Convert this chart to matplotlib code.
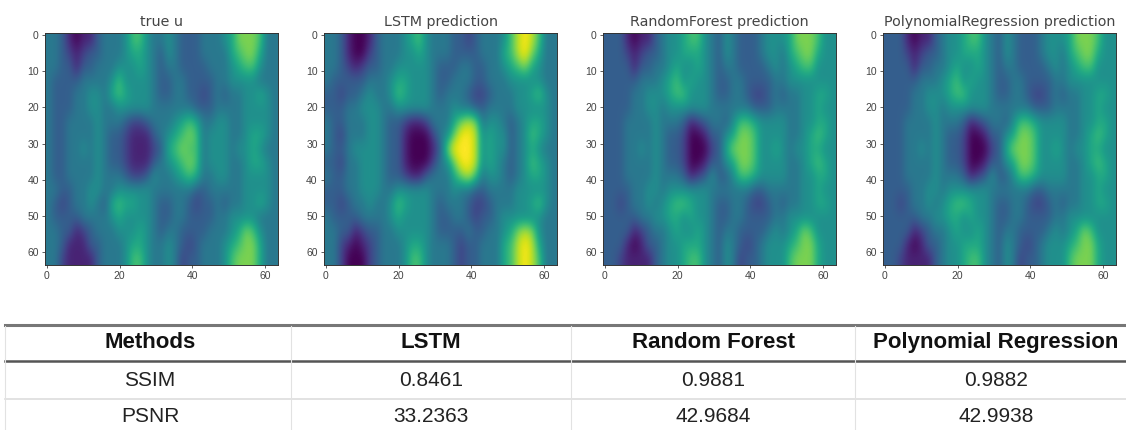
import matplotlib
matplotlib.use("Agg")
import matplotlib.pyplot as plt
import numpy as np

plt.rcParams['font.family'] = ['Liberation Sans', 'DejaVu Sans']

titles = ["true u", "LSTM prediction", "RandomForest prediction", "PolynomialRegression prediction"]

true_u = [
 [4,4,3,1,0,1,1,3,4,4,4,5,7,7,5,4,4,5,4,3,3,3,4,4,4,5,6,8,8,8,7,4,4],
 [4,4,3,2,1,2,3,3,4,4,4,5,6,6,5,4,3,5,4,3,3,3,4,4,4,4,6,7,8,8,6,4,4],
 [4,4,3,3,1,3,3,4,4,4,5,5,5,6,5,4,3,4,4,3,3,3,3,4,4,4,5,6,7,7,5,4,4],
 [4,3,3,3,3,4,4,4,4,5,7,5,5,5,5,4,3,3,4,4,3,3,3,3,4,4,5,5,5,5,4,4,4],
 [4,3,3,3,4,4,5,5,4,6,7,6,5,5,5,4,3,3,4,4,3,3,2,3,4,3,4,4,5,5,6,5,4],
 [4,3,3,3,4,4,5,5,4,4,5,5,5,5,5,4,4,4,4,4,4,3,3,3,4,4,4,4,5,5,5,5,4],
 [4,3,3,4,4,4,4,5,4,4,4,3,2,2,3,4,4,4,5,6,7,6,4,4,5,5,4,4,5,5,5,5,4],
 [4,3,3,4,4,4,4,5,4,3,3,2,1,1,1,3,4,5,6,7,8,7,4,5,5,5,4,4,5,6,6,5,4],
 [4,3,3,4,4,5,4,5,4,3,3,2,1,1,1,2,3,6,7,8,7,7,4,5,5,5,4,5,5,6,5,4,4],
 [4,3,3,4,4,4,4,5,4,3,3,2,1,1,1,3,4,5,6,7,8,7,4,5,5,5,4,4,5,6,6,5,4],
 [4,3,3,4,4,4,4,5,4,4,4,3,2,2,3,5,4,4,5,6,7,6,4,4,5,5,4,4,5,5,5,5,4],
 [4,4,3,3,4,4,5,5,4,4,5,5,5,5,5,4,4,4,4,4,4,3,3,4,4,4,4,4,5,5,5,5,4],
 [4,3,2,3,4,4,5,4,3,6,7,6,6,5,5,4,3,3,4,4,3,2,3,3,4,3,4,4,5,5,6,5,4],
 [4,3,3,3,3,4,4,4,4,5,6,5,5,5,5,4,3,3,4,4,3,3,3,3,4,4,5,5,5,5,4,4,4],
 [4,4,3,3,1,2,3,4,4,4,5,5,5,6,5,4,3,4,4,3,3,3,3,4,4,4,5,6,8,7,5,4,4],
 [4,4,3,1,1,1,3,3,4,4,4,5,6,6,5,4,4,5,4,3,2,3,4,4,4,5,6,7,8,8,6,4,4],
 [4,4,2,1,1,1,1,3,4,4,4,5,7,7,5,4,4,5,4,2,3,3,4,4,4,5,7,8,8,8,6,4,4],
]

lstm_u = [
 [4,4,3,1,0,0,1,3,4,4,4,5,6,7,5,4,4,4,3,3,2,3,4,4,4,5,7,9,10,9,7,4,4],
 [4,4,3,1,0,0,2,3,4,4,4,5,5,6,5,4,4,4,3,3,3,3,4,4,4,6,7,9,10,8,6,4,4],
 [4,4,3,2,1,2,3,3,4,4,5,5,5,5,5,4,3,3,3,4,4,3,3,4,4,5,6,7,8,6,5,4,4],
 [4,3,3,3,3,3,4,4,4,5,6,6,5,5,5,4,3,3,4,4,4,3,3,4,4,4,5,5,5,5,5,4,4],
 [3,3,2,3,3,4,5,4,4,5,7,6,5,5,5,4,3,4,4,4,3,2,2,3,4,4,4,5,5,6,7,5,4],
 [3,3,3,4,4,5,5,5,4,4,5,5,5,5,5,4,4,4,5,4,4,3,3,4,4,4,4,5,5,5,5,5,4],
 [4,3,3,4,4,4,5,5,4,3,3,2,1,1,2,4,4,4,6,8,9,8,4,5,5,4,3,4,5,6,6,5,4],
 [4,3,2,4,4,4,5,5,4,3,3,1,0,0,0,2,4,5,8,10,10,9,5,6,5,5,3,4,5,7,6,5,4],
 [4,3,3,4,5,5,5,5,4,3,3,1,0,0,0,1,3,8,10,10,10,9,5,6,5,5,3,4,5,6,5,4,4],
 [3,3,2,4,4,5,5,5,4,3,3,1,0,0,0,2,4,5,8,10,10,9,5,6,5,4,3,4,5,7,6,5,4],
 [4,3,3,4,4,5,5,5,4,3,3,2,1,1,3,4,4,4,6,8,9,7,4,5,5,4,3,4,5,6,6,5,4],
 [3,3,3,4,4,5,5,5,4,4,5,5,5,5,5,4,4,4,5,4,4,3,3,4,4,4,4,5,5,5,5,5,4],
 [3,3,2,3,4,4,5,4,4,5,7,6,5,5,5,4,3,4,4,4,3,2,2,3,4,4,4,5,5,6,7,5,4],
 [4,3,3,3,3,4,4,4,4,5,6,5,5,5,5,4,3,3,4,4,3,2,3,3,4,5,5,5,5,5,5,4,4],
 [4,4,3,3,1,2,3,3,4,4,5,5,5,5,5,4,3,3,3,3,4,3,3,4,4,5,6,8,9,8,5,4,4],
 [4,4,2,1,0,1,2,3,4,4,4,5,6,6,5,4,4,4,3,2,3,3,4,4,4,6,7,9,10,9,6,4,4],
 [4,4,2,0,0,0,2,3,4,4,4,5,7,7,5,4,4,4,3,2,3,3,4,4,4,6,7,9,10,9,7,4,4],
]

forest_u = [
 [3,3,3,1,0,1,1,3,4,5,5,6,7,7,5,4,3,5,4,3,3,3,4,5,5,5,6,8,8,8,7,5,5],
 [3,3,3,2,1,2,3,3,4,5,5,6,6,6,5,4,3,5,4,3,3,3,4,5,5,4,6,7,8,8,6,5,5],
 [3,3,3,3,1,3,3,4,4,5,6,5,5,6,5,4,3,4,4,3,3,3,3,4,5,4,5,6,7,7,5,5,5],
 [3,3,3,3,3,4,4,4,5,6,7,5,6,5,5,4,3,3,4,4,3,3,3,3,4,4,5,5,5,5,5,5,5],
 [3,3,3,3,4,4,5,5,5,6,7,7,5,5,5,4,3,3,4,4,3,2,2,3,4,3,4,4,5,5,6,6,5],
 [3,3,3,3,4,4,5,5,4,5,5,5,5,5,5,4,4,4,4,4,4,3,3,3,4,4,4,4,5,5,6,5,5],
 [3,3,3,4,4,4,4,5,4,4,4,3,1,2,3,4,4,3,5,7,7,6,5,5,5,5,4,4,5,5,6,6,5],
 [3,3,3,4,4,4,4,5,4,3,3,2,0,0,1,3,3,5,6,8,8,7,5,5,5,5,4,4,5,6,7,6,5],
 [3,3,3,4,4,5,4,5,4,3,3,2,0,0,0,2,3,6,8,8,8,7,5,5,6,5,4,5,5,6,6,5,5],
 [3,3,3,4,4,4,4,5,4,3,3,2,0,0,1,3,3,5,6,8,8,7,5,5,5,5,4,4,5,6,7,6,5],
 [3,3,3,4,4,4,4,5,4,4,4,3,1,2,3,5,3,3,5,7,7,6,5,5,5,5,4,4,5,5,6,6,5],
 [3,3,3,3,4,4,5,5,4,5,5,5,5,5,5,4,4,4,4,4,4,3,3,4,4,4,4,4,5,5,6,5,5],
 [3,3,2,3,4,4,5,4,5,6,7,7,6,5,5,4,3,3,4,4,3,2,2,3,4,3,4,4,5,5,6,6,5],
 [3,3,3,3,3,4,4,5,5,6,6,5,6,5,5,4,3,3,4,4,3,3,3,3,4,4,5,5,5,5,5,5,5],
 [3,3,3,3,1,2,3,4,4,5,6,5,5,6,5,4,3,4,4,3,3,3,3,4,5,4,5,6,8,7,5,5,5],
 [3,3,3,1,0,1,3,3,4,5,5,6,6,6,5,4,3,5,4,3,2,3,4,5,5,5,6,7,8,8,6,5,5],
 [3,3,2,1,1,1,1,3,4,5,5,6,7,7,5,4,3,5,4,2,3,3,4,5,5,5,7,8,8,8,6,5,5],
]

poly_u = forest_u

table_header = ["Methods", "LSTM", "Random Forest", "Polynomial Regression"]
table_rows = [["SSIM", "0.8461", "0.9881", "0.9882"],
              ["PSNR", "33.2363", "42.9684", "42.9938"]]

W, H = 1126, 430
fig = plt.figure(figsize=(W/100, H/100), dpi=100)
panel_x = [45, 324, 603, 883]
panel_w = 233
panel_top, panel_bottom = 33, 265

for title, grid, x0 in zip(titles, [true_u, lstm_u, forest_u, poly_u], panel_x):
    ax = fig.add_axes([x0/W, 1-panel_bottom/H, panel_w/W, (panel_bottom-panel_top)/H])
    ax.imshow(np.array(grid, float), cmap="viridis", vmin=0, vmax=10, aspect="auto",
              interpolation="bicubic", extent=[-0.5, 63.5, 63.5, -0.5])
    ax.set_xticks([0, 20, 40, 60])
    ax.set_yticks([0, 10, 20, 30, 40, 50, 60])
    ax.tick_params(labelsize=7.5, length=2.5, width=0.6, pad=2, colors="#444444")
    for s in ax.spines.values():
        s.set_linewidth(0.7)
        s.set_color("#333333")
    ax.set_title(title, fontsize=10.3, color="#444444", pad=5, family=["DejaVu Sans"])

# table drawn in a full-figure axes measured in pixels
tab = fig.add_axes([0, 0, 1, 1])
tab.set_xlim(0, W)
tab.set_ylim(H, 0)
tab.axis("off")
tab.patch.set_alpha(0)
col_edges = [291, 571, 855]
col_centers = [150, 431, 713, 996]
tab.plot([5, W], [325, 325], color="#777777", lw=2.2)
tab.plot([5, W], [361, 361], color="#555555", lw=1.8)
tab.plot([5, W], [399, 399], color="#dddddd", lw=1.2)
for xe in col_edges:
    tab.plot([xe, xe], [326, 430], color="#e2e2e2", lw=0.8)
tab.plot([5, 5], [326, 430], color="#e2e2e2", lw=0.8)
for xc, lab in zip(col_centers, table_header):
    tab.text(xc, 340, lab, ha="center", va="center_baseline", fontsize=16, fontweight="bold", color="#111111")
for y, row in zip([378, 415], table_rows):
    for xc, lab in zip(col_centers, row):
        tab.text(xc, y, lab, ha="center", va="center_baseline", fontsize=15, color="#222222")

fig.savefig("out.png", dpi=100)
